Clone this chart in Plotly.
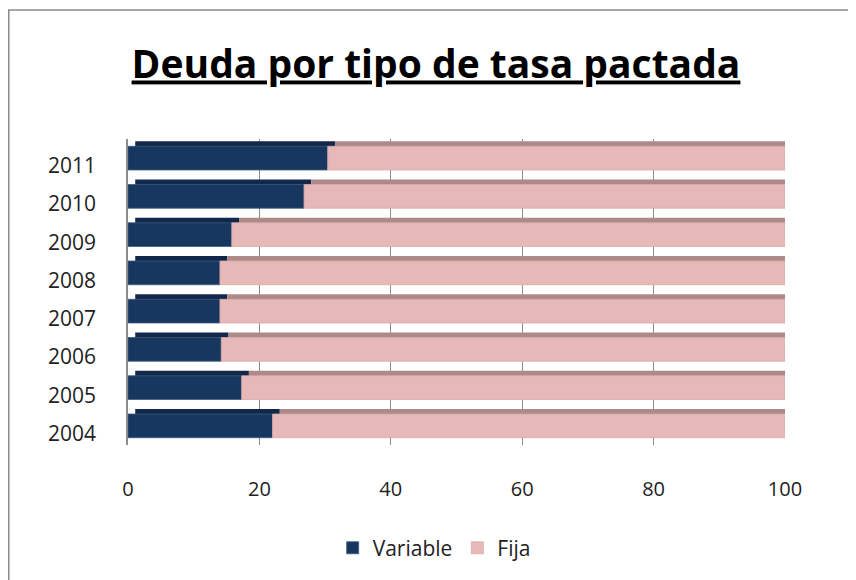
import plotly.graph_objects as go

years = ["2004", "2005", "2006", "2007", "2008", "2009", "2010", "2011"]
variable = [22.0, 17.3, 14.2, 14.0, 14.0, 15.8, 26.8, 30.4]
fija = [round(100 - v, 1) for v in variable]
x_ticks = [0, 20, 40, 60, 80, 100]

FONT = "Open Sans"
DEPTH_X = 1.1      # 3D depth (x units)
BAR_W = 0.62
DEPTH_Y = 0.13     # 3D depth (category units)

fig = go.Figure()
# depth faces (drawn first, behind the front faces)
fig.add_trace(go.Bar(
    y=years, x=variable, base=[DEPTH_X] * len(years), orientation="h",
    marker=dict(color="#11284A", line=dict(width=0)), width=BAR_W,
    offset=-BAR_W / 2 + DEPTH_Y, showlegend=False, hoverinfo="skip",
    cliponaxis=False,
))
fig.add_trace(go.Bar(
    y=years, x=fija, base=[v + DEPTH_X for v in variable], orientation="h",
    marker=dict(color="#AD8A89", line=dict(width=0)), width=BAR_W,
    offset=-BAR_W / 2 + DEPTH_Y, showlegend=False, hoverinfo="skip",
    cliponaxis=False,
))
# front faces
fig.add_trace(go.Bar(
    y=years, x=variable, base=[0] * len(years), name="Variable", orientation="h",
    marker=dict(color="#17375E", line=dict(color="#3d5a80", width=0.8)),
    width=BAR_W, offset=-BAR_W / 2, cliponaxis=False,
))
fig.add_trace(go.Bar(
    y=years, x=fija, base=variable, name="Fija", orientation="h",
    marker=dict(color="#E6B9B8", line=dict(color="#d9a9a8", width=0.8)),
    width=BAR_W, offset=-BAR_W / 2, cliponaxis=False,
))

# year labels, set slightly below the bar centres as in the 3D original
# (category axis: annotation positions are category indices)
annotations = [
    dict(text=yr, x=0, xref="paper", xanchor="right", xshift=-30,
         y=i, yref="y", yanchor="middle", yshift=-7, showarrow=False,
         font=dict(family=FONT, size=21, color="#222"))
    for i, yr in enumerate(years)
]

fig.update_layout(
    width=856, height=580,
    barmode="overlay",
    paper_bgcolor="white", plot_bgcolor="white",
    margin=dict(l=120, r=79, t=131, b=143),
    title=dict(
        text="<b><u>Deuda por tipo de tasa pactada</u></b>",
        x=0.5, xanchor="center", y=0.902, yanchor="middle",
        font=dict(family=FONT, size=39, color="black"),
    ),
    xaxis=dict(
        range=[0, 100], tickvals=x_ticks, ticktext=[str(t) for t in x_ticks],
        showgrid=True, gridcolor="#8c8c8c", gridwidth=1,
        zeroline=False, showline=False, ticks="",
        ticklabelstandoff=30,
        tickfont=dict(family=FONT, size=20, color="#222"),
    ),
    yaxis=dict(
        type="category", categoryorder="array", categoryarray=years,
        range=[-0.5, len(years) - 0.5],
        showgrid=False, zeroline=False, showline=True, linecolor="#8c8c8c",
        linewidth=1.5, ticks="", showticklabels=False,
    ),
    legend=dict(
        orientation="h", x=0.466, xanchor="center", y=-0.337, yanchor="middle",
        font=dict(family=FONT, size=21, color="#222"),
        traceorder="normal", itemwidth=30,
    ),
    annotations=annotations,
    shapes=[dict(
        type="rect", xref="paper", yref="paper",
        x0=-0.1815, x1=1.2, y0=-0.6, y1=1.4216,
        line=dict(color="#8a8a8a", width=1.5), fillcolor="rgba(0,0,0,0)",
        layer="below",
    )],
)

fig.write_html("out.html")
